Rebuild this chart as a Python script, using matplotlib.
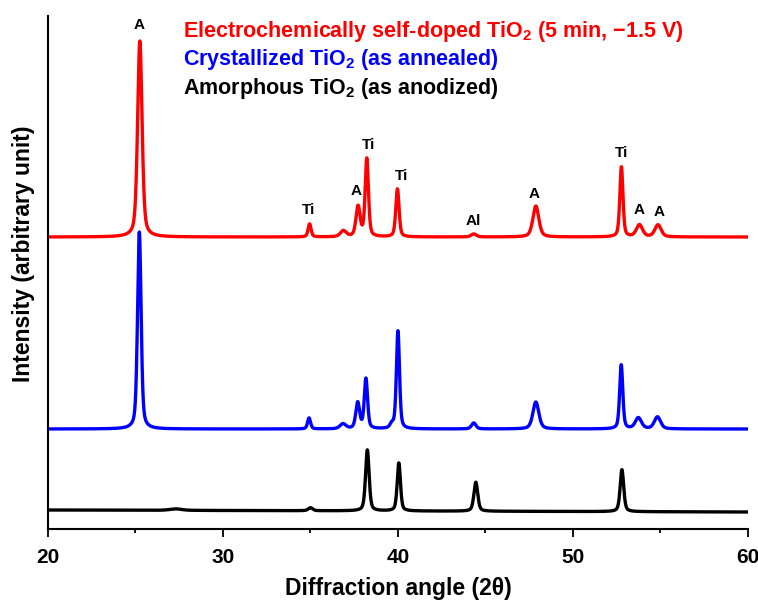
import matplotlib
matplotlib.use('Agg')
import matplotlib.pyplot as plt
import numpy as np

plt.rcParams['font.family'] = ['Liberation Sans', 'DejaVu Sans']
plt.rcParams['font.weight'] = 'bold'
plt.rcParams['mathtext.fontset'] = 'custom'
plt.rcParams['mathtext.rm'] = 'Liberation Sans:bold'
plt.rcParams['mathtext.bf'] = 'Liberation Sans:bold'
plt.rcParams['mathtext.default'] = 'bf'

# peak lists (2theta, height above baseline, FWHM) for each sample
red_pos = [25.25, 34.95, 36.88, 37.72, 38.22, 39.97, 44.33, 47.88, 52.77, 53.80, 54.86]
red_height = [196, 13, 6, 30, 78, 48, 3, 31, 70, 12, 12]
red_fwhm = [0.3, 0.2, 0.4, 0.28, 0.22, 0.22, 0.35, 0.4, 0.21, 0.42, 0.42]
red_base = [292, 292]

blue_pos = [25.22, 34.92, 36.86, 37.70, 38.17, 39.65, 40.00, 44.33, 47.88, 52.76, 53.74, 54.83]
blue_height = [197, 11, 5, 26, 50, 4, 98, 6, 27, 64, 11, 12]
blue_fwhm = [0.24, 0.2, 0.4, 0.26, 0.22, 0.24, 0.21, 0.3, 0.4, 0.21, 0.42, 0.42]
blue_base = [100, 100]

black_pos = [27.3, 35.0, 38.25, 40.05, 44.45, 52.80]
black_height = [1.5, 3, 61, 48, 29, 42]
black_fwhm = [0.8, 0.3, 0.24, 0.22, 0.26, 0.24]
black_base = [19, 17]

red_tags = ['A', 'Ti', 'A', 'Ti', 'Ti', 'Al', 'A', 'Ti', 'A', 'A']
red_tag_x = [25.2, 34.91, 37.6, 38.3, 40.2, 44.3, 47.8, 52.8, 53.8, 54.9]
red_tag_y = [504, 319, 338, 384, 353, 308, 335, 376, 319, 317]

legend_lines = [r'Electrochemically self-doped TiO$_2$ (5 min, −1.5 V)',
                r'Crystallized TiO$_2$ (as annealed)',
                r'Amorphous TiO$_2$ (as anodized)']
legend_colors = ['#ff0000', '#0000ff', 'black']

two_theta = np.arange(20, 60.0001, 0.01)


def pattern(pos, height, fwhm, base, eta=0.45):
    y = np.linspace(base[0], base[1], two_theta.size)
    for p, h, w in zip(pos, height, fwhm):
        d = (two_theta - p) / (w / 2)
        gauss = np.exp(-np.log(2) * d ** 2)
        lorentz = 1 / (1 + d ** 2)
        y = y + h * ((1 - eta) * gauss + eta * lorentz)
    return y


fig = plt.figure(figsize=(7.58, 6.01), dpi=100)
ax = fig.add_axes([0.0633, 0.1198, 0.9234, 0.8536])

ax.plot(two_theta, pattern(red_pos, red_height, red_fwhm, red_base), color='#ff0000', lw=2.4)
ax.plot(two_theta, pattern(blue_pos, blue_height, blue_fwhm, blue_base), color='#0000ff', lw=2.4)
ax.plot(two_theta, pattern(black_pos, black_height, black_fwhm, black_base), color='black', lw=2.4)

for tag, tx, ty in zip(red_tags, red_tag_x, red_tag_y):
    ax.text(tx, ty, tag, ha='center', va='center', fontsize=11, fontweight='bold')

for i, (txt, c) in enumerate(zip(legend_lines, legend_colors)):
    fig.text(0.2414, 1 - (37 + 28.5 * i) / 601, txt, color=c, fontsize=15.5,
             fontweight='bold', va='baseline', ha='left')

ax.set_xlim(20, 60)
ax.set_ylim(0, 513)
ax.set_xticks([20, 30, 40, 50, 60])
ax.set_xticks([25, 35, 45, 55], minor=True)
ax.set_yticks([])
ax.spines['top'].set_visible(False)
ax.spines['right'].set_visible(False)
ax.spines['left'].set_linewidth(1.5)
ax.spines['bottom'].set_linewidth(1.5)
ax.tick_params(axis='x', which='major', direction='out', length=6, width=1.3, pad=8, labelsize=15)
ax.tick_params(axis='x', which='minor', direction='out', length=3, width=1.3)
for lab in ax.get_xticklabels():
    lab.set_fontweight('bold')

ax.set_xlabel('Diffraction angle (2θ)', fontsize=16.5, fontweight='bold', labelpad=7)
ax.set_ylabel('Intensity (arbitrary unit)', fontsize=16.5, fontweight='bold')
ax.yaxis.set_label_coords(-0.018, 0.536)

plt.savefig('out.png', dpi=100)
